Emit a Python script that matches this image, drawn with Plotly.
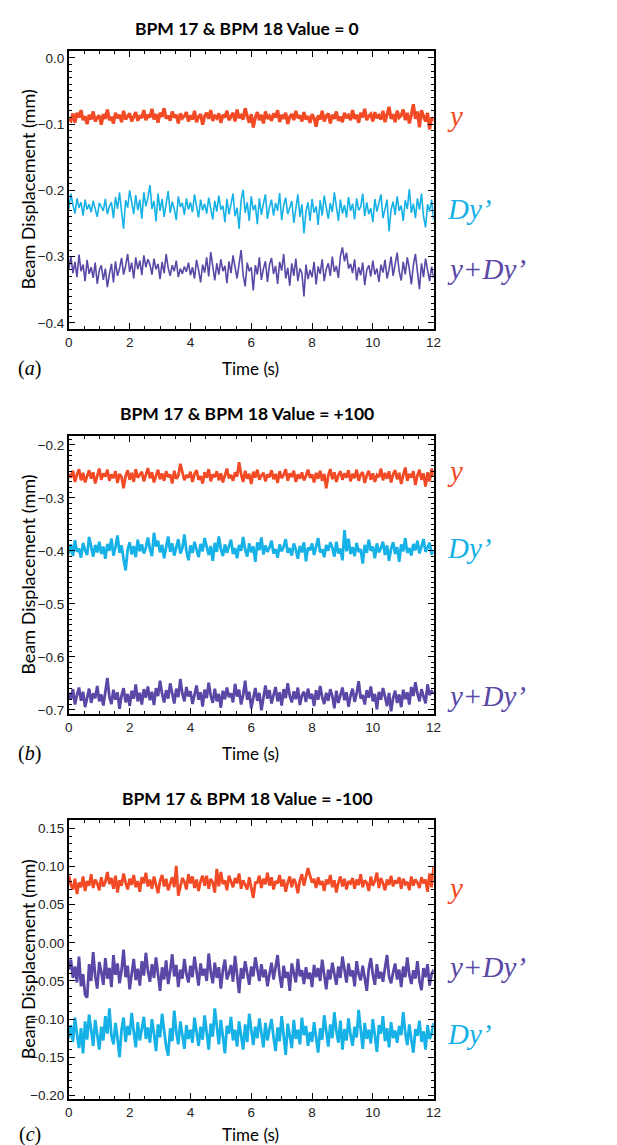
import numpy as np
import plotly.graph_objects as go

W, H = 617, 1145

# ---- time axis (s) ----
time_s = np.linspace(0, 12, 181)

# ---- panel (a): BPM 17 & BPM 18 value = 0 ----
a_y = [-0.092,-0.095,-0.084,-0.098,-0.083,-0.090,-0.079,-0.094,-0.088,-0.100,-0.086,-0.093,-0.081,-0.096,-0.090,-0.087,-0.101,-0.085,-0.092,-0.078,
       -0.094,-0.089,-0.099,-0.083,-0.091,-0.086,-0.097,-0.080,-0.093,-0.088,-0.084,-0.096,-0.089,-0.082,-0.095,-0.087,-0.091,-0.079,-0.094,-0.086,
       -0.090,-0.077,-0.093,-0.085,-0.098,-0.083,-0.089,-0.076,-0.092,-0.087,-0.095,-0.081,-0.090,-0.086,-0.099,-0.084,-0.091,-0.088,-0.082,-0.096,
       -0.087,-0.093,-0.080,-0.097,-0.089,-0.085,-0.101,-0.088,-0.083,-0.092,-0.079,-0.095,-0.088,-0.091,-0.084,-0.098,-0.086,-0.090,-0.080,-0.094,
       -0.089,-0.083,-0.096,-0.078,-0.091,-0.087,-0.093,-0.076,-0.088,-0.098,-0.085,-0.105,-0.090,-0.082,-0.094,-0.086,-0.099,-0.081,-0.092,-0.088,
       -0.095,-0.084,-0.090,-0.079,-0.097,-0.086,-0.092,-0.083,-0.100,-0.089,-0.085,-0.094,-0.080,-0.091,-0.087,-0.096,-0.082,-0.093,-0.088,-0.098,
       -0.085,-0.091,-0.104,-0.087,-0.093,-0.080,-0.096,-0.088,-0.084,-0.099,-0.086,-0.092,-0.081,-0.095,-0.089,-0.097,-0.083,-0.091,-0.087,-0.094,
       -0.079,-0.092,-0.086,-0.098,-0.083,-0.090,-0.077,-0.094,-0.088,-0.085,-0.096,-0.082,-0.091,-0.087,-0.093,-0.080,-0.097,-0.086,-0.074,-0.092,
       -0.085,-0.097,-0.080,-0.090,-0.087,-0.078,-0.094,-0.083,-0.099,-0.086,-0.070,-0.092,-0.081,-0.105,-0.079,-0.088,-0.096,-0.083,-0.108,-0.090,
       -0.095]
a_dy = [-0.228,-0.205,-0.222,-0.235,-0.212,-0.226,-0.218,-0.238,-0.214,-0.229,-0.221,-0.233,-0.216,-0.227,-0.240,-0.219,-0.225,-0.231,-0.213,-0.236,
        -0.224,-0.218,-0.242,-0.210,-0.228,-0.203,-0.232,-0.258,-0.215,-0.226,-0.200,-0.221,-0.236,-0.207,-0.230,-0.214,-0.243,-0.203,-0.224,-0.211,
        -0.192,-0.228,-0.216,-0.247,-0.205,-0.231,-0.213,-0.240,-0.222,-0.201,-0.234,-0.217,-0.228,-0.245,-0.209,-0.225,-0.219,-0.237,-0.212,-0.229,
        -0.218,-0.233,-0.206,-0.226,-0.241,-0.214,-0.230,-0.220,-0.235,-0.211,-0.227,-0.244,-0.216,-0.232,-0.208,-0.229,-0.223,-0.248,-0.213,-0.236,
        -0.221,-0.205,-0.239,-0.226,-0.258,-0.215,-0.199,-0.234,-0.218,-0.246,-0.209,-0.230,-0.222,-0.251,-0.212,-0.237,-0.220,-0.206,-0.243,-0.225,
        -0.214,-0.238,-0.219,-0.231,-0.204,-0.245,-0.223,-0.211,-0.236,-0.227,-0.216,-0.249,-0.229,-0.206,-0.240,-0.221,-0.265,-0.232,-0.218,-0.246,
        -0.213,-0.234,-0.224,-0.252,-0.215,-0.238,-0.208,-0.229,-0.243,-0.219,-0.233,-0.203,-0.227,-0.246,-0.214,-0.235,-0.222,-0.241,-0.210,-0.231,
        -0.220,-0.244,-0.212,-0.230,-0.225,-0.205,-0.239,-0.218,-0.236,-0.227,-0.248,-0.213,-0.232,-0.221,-0.206,-0.242,-0.226,-0.214,-0.262,-0.229,
        -0.217,-0.237,-0.209,-0.231,-0.223,-0.246,-0.215,-0.228,-0.198,-0.234,-0.220,-0.242,-0.212,-0.229,-0.205,-0.239,-0.256,-0.221,-0.232,-0.214,
        -0.245]
a_sum = [-0.318,-0.300,-0.325,-0.308,-0.331,-0.297,-0.322,-0.312,-0.337,-0.305,-0.326,-0.316,-0.332,-0.309,-0.341,-0.321,-0.313,-0.335,-0.318,-0.346,
         -0.326,-0.311,-0.339,-0.307,-0.329,-0.318,-0.302,-0.327,-0.314,-0.296,-0.323,-0.309,-0.333,-0.301,-0.319,-0.306,-0.328,-0.298,-0.316,-0.304,
         -0.312,-0.327,-0.303,-0.319,-0.311,-0.334,-0.308,-0.325,-0.296,-0.317,-0.329,-0.313,-0.322,-0.306,-0.331,-0.318,-0.326,-0.315,-0.323,-0.309,
         -0.328,-0.316,-0.333,-0.305,-0.320,-0.339,-0.312,-0.324,-0.301,-0.330,-0.293,-0.318,-0.336,-0.310,-0.327,-0.304,-0.322,-0.314,-0.340,-0.307,
         -0.325,-0.298,-0.319,-0.333,-0.311,-0.290,-0.328,-0.345,-0.309,-0.322,-0.316,-0.351,-0.313,-0.327,-0.301,-0.335,-0.318,-0.307,-0.338,-0.312,
         -0.302,-0.326,-0.314,-0.341,-0.308,-0.321,-0.296,-0.333,-0.317,-0.344,-0.310,-0.329,-0.303,-0.337,-0.318,-0.325,-0.360,-0.312,-0.334,-0.320,
         -0.331,-0.308,-0.342,-0.315,-0.326,-0.304,-0.337,-0.319,-0.310,-0.329,-0.300,-0.323,-0.314,-0.332,-0.299,-0.286,-0.307,-0.294,-0.318,-0.311,
         -0.325,-0.304,-0.336,-0.316,-0.328,-0.309,-0.343,-0.320,-0.313,-0.330,-0.306,-0.327,-0.318,-0.338,-0.312,-0.324,-0.305,-0.333,-0.319,-0.300,
         -0.329,-0.311,-0.294,-0.322,-0.336,-0.308,-0.327,-0.301,-0.318,-0.342,-0.313,-0.296,-0.324,-0.349,-0.310,-0.331,-0.303,-0.319,-0.337,-0.315,
         -0.332]

# ---- panel (b): BPM 17 & BPM 18 value = +100 ----
b_y = [-0.255,-0.262,-0.249,-0.270,-0.256,-0.246,-0.267,-0.253,-0.271,-0.258,-0.248,-0.264,-0.252,-0.273,-0.257,-0.245,-0.266,-0.254,-0.260,-0.247,
       -0.268,-0.256,-0.263,-0.250,-0.272,-0.255,-0.261,-0.282,-0.259,-0.248,-0.266,-0.253,-0.270,-0.246,-0.262,-0.257,-0.251,-0.269,-0.255,-0.244,
       -0.263,-0.252,-0.271,-0.258,-0.247,-0.265,-0.254,-0.268,-0.250,-0.261,-0.256,-0.273,-0.249,-0.264,-0.259,-0.236,-0.253,-0.267,-0.257,-0.262,
       -0.251,-0.270,-0.255,-0.248,-0.266,-0.259,-0.273,-0.252,-0.262,-0.246,-0.269,-0.256,-0.261,-0.250,-0.267,-0.254,-0.271,-0.258,-0.245,-0.263,
       -0.257,-0.268,-0.252,-0.260,-0.233,-0.256,-0.270,-0.249,-0.264,-0.255,-0.274,-0.251,-0.262,-0.247,-0.266,-0.258,-0.253,-0.269,-0.256,-0.261,
       -0.248,-0.265,-0.255,-0.272,-0.250,-0.263,-0.257,-0.246,-0.268,-0.254,-0.261,-0.249,-0.270,-0.256,-0.264,-0.252,-0.267,-0.259,-0.247,-0.262,
       -0.256,-0.271,-0.253,-0.264,-0.249,-0.268,-0.255,-0.282,-0.258,-0.246,-0.265,-0.252,-0.270,-0.257,-0.250,-0.266,-0.254,-0.262,-0.248,-0.269,
       -0.255,-0.263,-0.247,-0.268,-0.256,-0.252,-0.272,-0.258,-0.249,-0.266,-0.254,-0.270,-0.257,-0.261,-0.245,-0.267,-0.253,-0.264,-0.250,-0.271,
       -0.256,-0.248,-0.265,-0.253,-0.274,-0.257,-0.243,-0.268,-0.255,-0.262,-0.250,-0.276,-0.258,-0.247,-0.266,-0.254,-0.279,-0.252,-0.269,-0.245,
       -0.260]
b_dy = [-0.405,-0.388,-0.410,-0.380,-0.402,-0.396,-0.413,-0.385,-0.399,-0.408,-0.374,-0.395,-0.411,-0.389,-0.403,-0.383,-0.406,-0.392,-0.415,-0.387,
        -0.400,-0.377,-0.409,-0.393,-0.371,-0.404,-0.390,-0.416,-0.437,-0.398,-0.384,-0.407,-0.391,-0.412,-0.379,-0.401,-0.388,-0.405,-0.394,-0.375,
        -0.397,-0.410,-0.366,-0.392,-0.381,-0.403,-0.389,-0.414,-0.396,-0.373,-0.402,-0.386,-0.409,-0.392,-0.378,-0.405,-0.395,-0.369,-0.400,-0.418,
        -0.390,-0.404,-0.383,-0.398,-0.412,-0.387,-0.401,-0.376,-0.395,-0.408,-0.391,-0.419,-0.385,-0.402,-0.373,-0.397,-0.410,-0.388,-0.404,-0.393,
        -0.379,-0.406,-0.395,-0.414,-0.389,-0.400,-0.374,-0.398,-0.411,-0.386,-0.403,-0.392,-0.421,-0.384,-0.399,-0.375,-0.407,-0.390,-0.402,-0.394,
        -0.381,-0.405,-0.397,-0.413,-0.388,-0.401,-0.392,-0.378,-0.404,-0.395,-0.409,-0.386,-0.398,-0.415,-0.391,-0.403,-0.384,-0.420,-0.394,-0.399,
        -0.386,-0.408,-0.392,-0.376,-0.403,-0.397,-0.412,-0.389,-0.400,-0.384,-0.394,-0.411,-0.383,-0.405,-0.396,-0.418,-0.361,-0.401,-0.377,-0.406,
        -0.393,-0.410,-0.385,-0.402,-0.397,-0.424,-0.389,-0.404,-0.379,-0.400,-0.392,-0.414,-0.386,-0.403,-0.395,-0.383,-0.408,-0.390,-0.419,-0.396,
        -0.384,-0.406,-0.393,-0.421,-0.388,-0.401,-0.376,-0.404,-0.395,-0.409,-0.387,-0.399,-0.381,-0.405,-0.392,-0.378,-0.402,-0.394,-0.385,-0.407,
        -0.398]
b_sum = [-0.668,-0.680,-0.661,-0.690,-0.672,-0.658,-0.683,-0.666,-0.695,-0.675,-0.660,-0.687,-0.669,-0.678,-0.655,-0.684,-0.671,-0.692,-0.663,-0.640,
         -0.676,-0.689,-0.662,-0.681,-0.667,-0.698,-0.673,-0.659,-0.686,-0.670,-0.693,-0.664,-0.679,-0.652,-0.684,-0.668,-0.690,-0.661,-0.677,-0.656,
         -0.682,-0.666,-0.691,-0.659,-0.674,-0.645,-0.670,-0.686,-0.663,-0.679,-0.650,-0.673,-0.688,-0.660,-0.676,-0.642,-0.669,-0.684,-0.657,-0.675,
         -0.665,-0.689,-0.671,-0.654,-0.681,-0.667,-0.694,-0.662,-0.678,-0.649,-0.673,-0.687,-0.660,-0.684,-0.670,-0.696,-0.664,-0.680,-0.658,-0.676,
         -0.669,-0.686,-0.651,-0.675,-0.662,-0.690,-0.672,-0.645,-0.681,-0.666,-0.697,-0.674,-0.659,-0.683,-0.668,-0.701,-0.677,-0.654,-0.679,-0.663,
         -0.688,-0.671,-0.657,-0.684,-0.667,-0.692,-0.661,-0.678,-0.650,-0.674,-0.686,-0.665,-0.680,-0.658,-0.691,-0.673,-0.666,-0.685,-0.660,-0.679,
         -0.670,-0.693,-0.663,-0.681,-0.655,-0.676,-0.689,-0.668,-0.683,-0.661,-0.674,-0.697,-0.664,-0.687,-0.671,-0.658,-0.682,-0.667,-0.694,-0.673,
         -0.660,-0.685,-0.669,-0.646,-0.679,-0.672,-0.690,-0.663,-0.677,-0.656,-0.684,-0.670,-0.699,-0.666,-0.681,-0.659,-0.675,-0.693,-0.668,-0.703,
         -0.678,-0.664,-0.687,-0.671,-0.695,-0.662,-0.680,-0.667,-0.690,-0.657,-0.674,-0.648,-0.669,-0.684,-0.661,-0.676,-0.688,-0.652,-0.672,-0.665,
         -0.668]

# ---- panel (c): BPM 17 & BPM 18 value = -100 ----
c_y = [0.088,0.076,0.070,0.084,0.064,0.079,0.073,0.087,0.068,0.081,0.075,0.090,0.072,0.083,0.078,0.069,0.086,0.074,0.080,0.093,
       0.077,0.085,0.071,0.088,0.066,0.082,0.075,0.091,0.079,0.070,0.084,0.076,0.089,0.073,0.081,0.067,0.086,0.078,0.092,0.074,
       0.083,0.071,0.087,0.077,0.065,0.081,0.089,0.074,0.084,0.069,0.079,0.086,0.073,0.101,0.062,0.076,0.085,0.080,0.070,0.090,
       0.078,0.087,0.072,0.083,0.068,0.081,0.088,0.075,0.088,0.071,0.084,0.079,0.066,0.097,0.074,0.093,0.077,0.082,0.069,0.088,
       0.080,0.073,0.085,0.078,0.091,0.071,0.082,0.076,0.070,0.086,0.074,0.059,0.079,0.079,0.088,0.072,0.084,0.077,0.092,0.075,
       0.086,0.070,0.081,0.078,0.089,0.074,0.083,0.067,0.079,0.087,0.073,0.084,0.078,0.065,0.082,0.090,0.075,0.085,0.098,0.088,
       0.079,0.084,0.072,0.086,0.076,0.081,0.068,0.083,0.077,0.089,0.073,0.082,0.066,0.079,0.087,0.074,0.084,0.070,0.081,0.078,
       0.085,0.071,0.083,0.076,0.090,0.073,0.082,0.079,0.068,0.087,0.075,0.081,0.092,0.072,0.085,0.078,0.069,0.083,0.076,0.088,
       0.074,0.082,0.078,0.086,0.071,0.084,0.077,0.080,0.069,0.087,0.075,0.083,0.079,0.072,0.086,0.078,0.083,0.067,0.091,0.073,
       0.100]
c_dy = [-0.125,-0.108,-0.130,-0.098,-0.120,-0.138,-0.112,-0.145,-0.103,-0.127,-0.094,-0.118,-0.135,-0.101,-0.124,-0.140,-0.110,-0.128,-0.096,-0.119,
        -0.086,-0.122,-0.133,-0.105,-0.125,-0.150,-0.114,-0.098,-0.130,-0.109,-0.121,-0.092,-0.116,-0.137,-0.104,-0.128,-0.113,-0.097,-0.126,-0.111,
        -0.131,-0.100,-0.119,-0.142,-0.107,-0.124,-0.093,-0.115,-0.136,-0.148,-0.112,-0.129,-0.089,-0.117,-0.133,-0.103,-0.121,-0.139,-0.108,-0.126,
        -0.114,-0.131,-0.098,-0.120,-0.135,-0.110,-0.127,-0.095,-0.118,-0.140,-0.106,-0.123,-0.086,-0.112,-0.133,-0.101,-0.125,-0.145,-0.109,-0.119,
        -0.097,-0.128,-0.114,-0.136,-0.103,-0.121,-0.140,-0.107,-0.130,-0.093,-0.116,-0.134,-0.110,-0.125,-0.099,-0.119,-0.137,-0.105,-0.128,-0.113,
        -0.100,-0.124,-0.142,-0.111,-0.129,-0.096,-0.118,-0.147,-0.106,-0.123,-0.138,-0.101,-0.126,-0.114,-0.133,-0.098,-0.121,-0.109,-0.135,-0.117,
        -0.130,-0.104,-0.122,-0.144,-0.112,-0.127,-0.095,-0.119,-0.136,-0.107,-0.125,-0.091,-0.116,-0.131,-0.102,-0.140,-0.113,-0.128,-0.099,-0.121,
        -0.135,-0.110,-0.124,-0.088,-0.117,-0.139,-0.105,-0.126,-0.114,-0.132,-0.100,-0.123,-0.143,-0.108,-0.119,-0.096,-0.129,-0.112,-0.137,-0.104,
        -0.125,-0.115,-0.131,-0.109,-0.121,-0.091,-0.118,-0.134,-0.107,-0.127,-0.144,-0.113,-0.122,-0.102,-0.130,-0.116,-0.140,-0.108,-0.126,-0.119,
        -0.105]
c_sum = [-0.035,-0.022,-0.046,-0.031,-0.052,-0.018,-0.057,-0.041,-0.068,-0.072,-0.028,-0.050,-0.012,-0.044,-0.060,-0.025,-0.038,-0.055,-0.020,-0.047,
         -0.033,-0.058,-0.016,-0.042,-0.027,-0.053,-0.036,-0.009,-0.045,-0.030,-0.061,-0.039,-0.021,-0.049,-0.034,-0.056,-0.024,-0.043,-0.013,-0.037,
         -0.051,-0.028,-0.046,-0.019,-0.040,-0.063,-0.032,-0.048,-0.023,-0.054,-0.037,-0.015,-0.044,-0.029,-0.058,-0.035,-0.047,-0.021,-0.041,-0.052,
         -0.030,-0.045,-0.018,-0.039,-0.056,-0.027,-0.043,-0.034,-0.050,-0.014,-0.038,-0.053,-0.026,-0.046,-0.032,-0.060,-0.036,-0.022,-0.048,-0.040,
         -0.029,-0.051,-0.017,-0.042,-0.066,-0.033,-0.047,-0.024,-0.039,-0.055,-0.031,-0.044,-0.019,-0.037,-0.050,-0.028,-0.045,-0.035,-0.057,-0.041,
         -0.026,-0.048,-0.034,-0.016,-0.043,-0.059,-0.030,-0.046,-0.038,-0.063,-0.027,-0.041,-0.052,-0.021,-0.044,-0.036,-0.054,-0.032,-0.047,-0.039,
         -0.058,-0.029,-0.045,-0.033,-0.050,-0.022,-0.040,-0.061,-0.035,-0.048,-0.026,-0.043,-0.055,-0.031,-0.046,-0.018,-0.038,-0.052,-0.027,-0.044,
         -0.036,-0.057,-0.024,-0.041,-0.049,-0.030,-0.046,-0.063,-0.034,-0.020,-0.042,-0.055,-0.028,-0.047,-0.038,-0.051,-0.033,-0.016,-0.044,-0.053,
         -0.039,-0.027,-0.048,-0.035,-0.058,-0.031,-0.045,-0.019,-0.042,-0.054,-0.036,-0.047,-0.024,-0.050,-0.062,-0.033,-0.045,-0.028,-0.056,-0.041,
         -0.035]

titles = ["BPM 17 &amp; BPM 18 Value = 0", "BPM 17 &amp; BPM 18 Value = +100", "BPM 17 &amp; BPM 18 Value = -100"]
panel_tags = ["a", "b", "c"]
series_names = ["y", "Dy’", "y+Dy’"]
y_ranges = [[-0.409, 0.0105], [-0.707, -0.1844], [-0.205, 0.1609]]
y_dticks = [0.1, 0.1, 0.05]
y_formats = [".1f", ".1f", ".2f"]

RED, CYAN, PURPLE = "#F14A25", "#16B1E6", "#5A47A6"
colors = [RED, CYAN, PURPLE]

# pixel geometry of each panel (top, bottom of plot frame)
px_left, px_right = 58, 430
frames = [(43, 322), (430, 708), (815, 1095)]
title_py = [21, 407, 793]
xlabel_py = [362, 748, 1130]
label_py = [[108, 202, 262], [465, 542, 690], [883, 1030, 962]]
widths = [[3.2, 1.6, 1.6], [2.8, 2.8, 2.8], [2.8, 2.8, 2.8]]

data = [[a_y, a_dy, a_sum], [b_y, b_dy, b_sum], [c_y, c_dy, c_sum]]

def py2p(py):
    return 1 - py / H

fig = go.Figure()
annotations = []
layout_axes = {}
tickfont = dict(family="Liberation Sans, Arial", size=13.5, color="#222")
for k in range(3):
    xa = "x" if k == 0 else f"x{k+1}"
    ya = "y" if k == 0 else f"y{k+1}"
    for s in range(3):
        fig.add_trace(go.Scatter(x=time_s, y=data[k][s], mode="lines", xaxis=xa, yaxis=ya,
                                 line=dict(color=colors[s], width=widths[k][s]),
                                 showlegend=False, hoverinfo="skip"))
    top, bot = frames[k]
    xkey = "xaxis" if k == 0 else f"xaxis{k+1}"
    ykey = "yaxis" if k == 0 else f"yaxis{k+1}"
    layout_axes[xkey] = dict(
        domain=[px_left / W, px_right / W], anchor=ya, range=[0, 12],
        tickmode="linear", tick0=0, dtick=2, ticks="inside", ticklen=6, tickwidth=1.3,
        minor=dict(dtick=0.5, ticks="inside", ticklen=3, tickwidth=1.1, tickcolor="black"),
        showline=True, linewidth=1.6, linecolor="black", mirror="allticks",
        showgrid=False, zeroline=False, tickcolor="black", tickfont=tickfont)
    layout_axes[ykey] = dict(
        domain=[py2p(bot), py2p(top)], anchor=xa, range=y_ranges[k],
        tickmode="linear", tick0=0, dtick=y_dticks[k], tickformat=y_formats[k],
        ticks="inside", ticklen=6, tickwidth=1.3,
        minor=dict(dtick=0.01, ticks="inside", ticklen=3, tickwidth=1.1, tickcolor="black"),
        showline=True, linewidth=1.6, linecolor="black", mirror="allticks",
        showgrid=False, zeroline=False, tickcolor="black", tickfont=tickfont)
    # title
    annotations.append(dict(text=f"<b>{titles[k]}</b>", xref="paper", yref="paper",
                            x=240 / W, y=py2p(title_py[k]), xanchor="center", yanchor="middle",
                            showarrow=False, font=dict(family="Lato", size=17.5, color="black")))
    # axis titles
    annotations.append(dict(text="Time (s)", xref="paper", yref="paper",
                            x=243 / W, y=py2p(xlabel_py[k]), xanchor="center", yanchor="middle",
                            showarrow=False, font=dict(family="Lato", size=17, color="black")))
    annotations.append(dict(text="Beam Displacement (mm)", xref="paper", yref="paper",
                            x=16 / W, y=py2p((top + bot) / 2), xanchor="center", yanchor="middle",
                            textangle=-90, showarrow=False,
                            font=dict(family="Lato", size=18, color="black")))
    # panel tag
    annotations.append(dict(text=f"(<i>{panel_tags[k]}</i>)", xref="paper", yref="paper",
                            x=18 / W, y=py2p(xlabel_py[k]), xanchor="center", yanchor="middle",
                            showarrow=False,
                            font=dict(family="Liberation Serif, Times New Roman", size=20, color="black")))
    # series labels on the right
    for s in range(3):
        annotations.append(dict(text=f"<i>{series_names[s]}</i>", xref="paper", yref="paper",
                                x=442 / W, y=py2p(label_py[k][s]), xanchor="left", yanchor="middle",
                                showarrow=False,
                                font=dict(family="Liberation Serif, Times New Roman", size=29,
                                          color=colors[s])))

fig.update_layout(width=W, height=H, margin=dict(l=0, r=0, t=0, b=0),
                  paper_bgcolor="white", plot_bgcolor="white",
                  annotations=annotations, **layout_axes)
fig.write_html("out.html")
